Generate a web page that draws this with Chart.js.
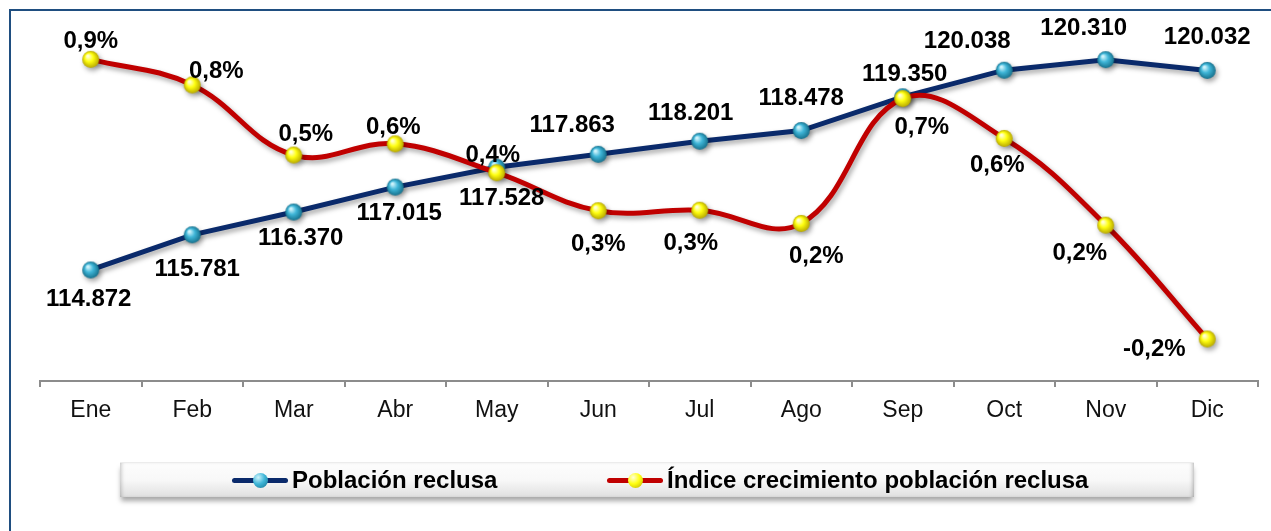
<!DOCTYPE html>
<html>
<head>
<meta charset="utf-8">
<script src="https://cdn.jsdelivr.net/npm/chart.js@4.4.1/dist/chart.umd.min.js"></script>
<style>
html,body{margin:0;padding:0;background:#fff;overflow:hidden;width:1271px;height:531px;}
#frame{position:absolute;left:9px;top:9px;width:1400px;height:700px;border-top:2px solid #1f4e80;border-left:2px solid #1f4e80;}
#wrap{position:absolute;left:0;top:0;width:1271px;height:531px;}
#legend{position:absolute;left:120px;top:462px;width:1074px;height:35px;
  background:linear-gradient(#fdfdfd,#f8f8f8 50%,#e0e0e0);
  border-top:1px solid #ececec;box-sizing:border-box;
  box-shadow:0 5px 5px -1px rgba(0,0,0,.35), inset 4px 0 4px -3px rgba(0,0,0,.25), inset -4px 0 4px -3px rgba(0,0,0,.3);
  font:bold 24px "Liberation Sans", Arial, sans-serif;color:#000;}
.item{position:absolute;top:0;height:34px;display:flex;align-items:center;white-space:nowrap;}
.sw{position:relative;width:56px;height:34px;margin-right:4px;}
.sw .ln{position:absolute;left:0;right:0;top:15px;height:5px;border-radius:3px;}
.sw .mk{position:absolute;left:21px;top:10px;width:15px;height:15px;border-radius:50%;}
</style>
</head>
<body>
<div id="frame"></div>
<div id="wrap"><canvas id="c" width="1271" height="531"></canvas></div>
<div id="legend">
  <div class="item" style="left:112px"><div class="sw"><div class="ln" style="background:#0a2a6b"></div><div class="mk" style="background:radial-gradient(circle at 35% 30%,#d0f4fc,#3fb6d8 45%,#16708c 100%)"></div></div><span>Población reclusa</span></div>
  <div class="item" style="left:487px"><div class="sw"><div class="ln" style="background:#c00000"></div><div class="mk" style="background:radial-gradient(circle at 35% 30%,#ffffd8,#ffff10 45%,#b8a800 100%)"></div></div><span>Índice crecimiento población reclusa</span></div>
</div>
<script>
// ---- data ----
const months = ['Ene','Feb','Mar','Abr','May','Jun','Jul','Ago','Sep','Oct','Nov','Dic'];
const poblacion = [114872, 115781, 116370, 117015, 117528, 117863, 118201, 118478, 119350, 120038, 120310, 120032];
const indice = [0.894, 0.791, 0.509, 0.554, 0.438, 0.285, 0.287, 0.234, 0.736, 0.576, 0.227, -0.231];
const seriesNames = ['Población reclusa', 'Índice crecimiento población reclusa'];

// label placement (pixel offsets from each point)
const labelOffsetsPob = [[-2,29],[5,35],[7,26],[4,26],[5,31],[-26,-29],[-9,-28],[0,-32],[2,-22],[-37,-29],[-22,-31],[0,-33]];
const labelOffsetsInd = [[0,-18],[24,-14],[12,-21],[-2,-16],[-4,-17],[0,34],[-9,33],[15,33],[19,29],[-7,27],[-26,28],[-53,10]];

const FONT = '"Liberation Sans", Arial, sans-serif';

function fmtPob(v){ return String(v).replace(/\B(?=(\d{3})+(?!\d))/g,'.'); }
function fmtInd(v){ return v.toFixed(1).replace('.',',') + '%'; }

function sphere(r, light, mid, dark){
  const c = document.createElement('canvas');
  c.width = c.height = 2*r+2;
  const g = c.getContext('2d');
  const cx = r+1, cy = r+1;
  const grd = g.createRadialGradient(cx - r*0.35, cy - r*0.4, r*0.1, cx, cy, r);
  grd.addColorStop(0, light);
  grd.addColorStop(0.45, mid);
  grd.addColorStop(1, dark);
  g.fillStyle = grd;
  g.beginPath(); g.arc(cx, cy, r, 0, Math.PI*2); g.fill();
  return c;
}
const blueBall = sphere(8.5, '#d0f4fc', '#3fb6d8', '#16708c');
const yellowBall = sphere(8.5, '#ffffd8', '#ffff10', '#b8a800');

const shadowPlugin = {
  id: 'shadow',
  beforeDatasetDraw(chart){ const ctx = chart.ctx; ctx.save(); ctx.shadowColor='rgba(0,0,0,0.35)'; ctx.shadowBlur=5; ctx.shadowOffsetX=2; ctx.shadowOffsetY=3; },
  afterDatasetDraw(chart){ chart.ctx.restore(); }
};

const labelPlugin = {
  id: 'pointLabels',
  afterDatasetsDraw(chart){
    const ctx = chart.ctx;
    ctx.save();
    ctx.font = 'bold 24px ' + FONT;
    ctx.fillStyle = '#000';
    ctx.textAlign = 'center';
    ctx.textBaseline = 'middle';
    const offs = [labelOffsetsPob, labelOffsetsInd];
    const fmts = [fmtPob, fmtInd];
    chart.data.datasets.forEach((ds, di) => {
      chart.getDatasetMeta(di).data.forEach((pt, i) => {
        const o = offs[di][i];
        ctx.fillText(fmts[di](ds.data[i]), pt.x + o[0], pt.y + o[1]);
      });
    });
    ctx.restore();
  }
};

new Chart(document.getElementById('c'), {
  type: 'line',
  data: {
    labels: months,
    datasets: [
      { label: seriesNames[0], data: poblacion, yAxisID: 'y', borderColor: '#0a2a6b', borderWidth: 5,
        tension: 0, pointStyle: blueBall, pointRadius: 8, order: 1, clip: false },
      { label: seriesNames[1], data: indice, yAxisID: 'y2', borderColor: '#c00000', borderWidth: 5,
        tension: 0.4, pointStyle: yellowBall, pointRadius: 8, order: 0, clip: false }
    ]
  },
  options: {
    responsive: false,
    devicePixelRatio: 1,
    animation: false,
    layout: { padding: { left: 40, right: 13, top: 33, bottom: 0 } },
    plugins: { legend: { display: false }, tooltip: { enabled: false } },
    scales: {
      x: {
        offset: true,
        grid: { offset: true, drawOnChartArea: false, drawTicks: true, tickLength: 6, color: '#8c8c8c', lineWidth: 2 },
        border: { display: true, color: '#8c8c8c', width: 2 },
        ticks: { color: '#111', font: { family: FONT, size: 23 }, padding: 10, maxRotation: 0 },
        afterFit(s){ s.height = 150; }
      },
      y: { display: false, min: 112000, max: 121000 },
      y2: { display: false, min: -0.4, max: 1.0 }
    }
  },
  plugins: [shadowPlugin, labelPlugin]
});
</script>
</body>
</html>
